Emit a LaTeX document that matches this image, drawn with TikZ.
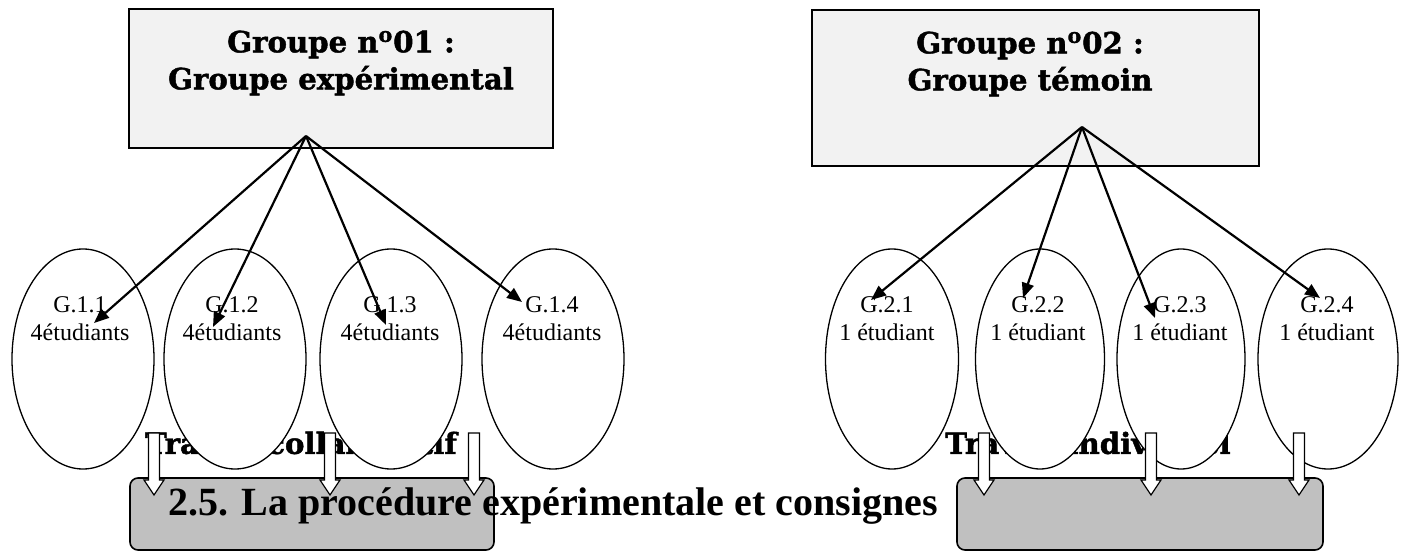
\documentclass[tikz,border=0pt]{standalone}
\usepackage{fontspec}
\setmainfont{Liberation Serif}
\newfontfamily\heavyfont{DejaVu Serif Bold}[FakeBold=1.5]
\usetikzlibrary{arrows.meta,shapes.geometric}

\definecolor{titlegray}{HTML}{F2F2F2}
\definecolor{workgray}{HTML}{C0C0C0}

\newcommand{\blockarrow}[1]{
	\pgfmathsetmacro{\BAxa}{#1-5.5}
	\pgfmathsetmacro{\BAxb}{#1+5.5}
	\pgfmathsetmacro{\BAha}{#1-10}
	\pgfmathsetmacro{\BAhb}{#1+10}
	\draw[fill=white, line width=0.6pt] (\BAxa,433) -- (\BAxb,433) -- (\BAxb,480) -- (\BAhb,480) -- (#1,495) -- (\BAha,480) -- (\BAxa,480) -- cycle;
}

\begin{document}
\begin{tikzpicture}[x=0.5pt, y=-0.5pt,
	grpbox/.style={draw, line width=0.8pt, fill=titlegray, inner sep=0pt},
	heavy/.style={font=\heavyfont\fontsize{14.6}{18.5}\selectfont, align=center, inner sep=0pt},
	ell/.style={ellipse, draw, fill=white, line width=0.65pt, minimum width=71pt, minimum height=110pt, inner sep=0pt},
	lbl/.style={align=center, font=\fontsize{12}{14}\selectfont, inner sep=0pt},
	link/.style={line width=1.1pt, -{Triangle[length=7.5pt,width=6pt]}},
	workbox/.style={draw, line width=0.8pt, rounded corners=4pt, fill=workgray, inner sep=0pt}]
\useasboundingbox[fill=white] (0,0) rectangle (1405,551);

% group boxes
\node[grpbox, minimum width=212pt, minimum height=69.5pt] (box1) at (341,78.5) {};
\node[heavy] (title1) at (341,63) {Groupe n\textsuperscript{o}01 :\\Groupe expérimental};
\node[grpbox, minimum width=223.5pt, minimum height=78pt] (box2) at (1035.5,88) {};
\node[heavy] (title2) at (1030,64) {Groupe n\textsuperscript{o}02 :\\Groupe témoin};

\node[heavy] (work1) at (301,443) {Travail collaboratif};
\node[heavy] (work2) at (1088,443) {Travail individuel};

% subgroups
\node[ell] (g11) at (83,359) {};
\node[ell] (g12) at (235,359) {};
\node[ell] (g13) at (391,359) {};
\node[ell] (g14) at (553,359) {};
\node[ell, minimum width=66.5pt] (g21) at (892,359) {};
\node[ell, minimum width=64.5pt] (g22) at (1040,359) {};
\node[ell, minimum width=64pt] (g23) at (1181,359) {};
\node[ell, minimum width=70pt] (g24) at (1328,359) {};

\foreach \i/\x in {1/80,2/232,3/390,4/552}
	\node[lbl] (t1\i) at (\x,319) {G.1.\i\\4étudiants};
\foreach \i/\x in {1/887,2/1038,3/1180,4/1327}
	\node[lbl] (t2\i) at (\x,319) {G.2.\i\\1 étudiant};

\coordinate (top1) at (306,136);
\coordinate (top2) at (1082,127);
\coordinate (p11) at (94,323);
\coordinate (p12) at (213,327);
\coordinate (p13) at (386,325);
\coordinate (p14) at (522,302);
\coordinate (p21) at (871,300);
\coordinate (p22) at (1023,298);
\coordinate (p23) at (1155,318);
\coordinate (p24) at (1320,298);

\foreach \i in {1,...,4}{
	\draw[link] (top1) -- (p1\i);
	\draw[link] (top2) -- (p2\i);
}

% result boxes
\node[workbox, minimum width=182pt, minimum height=36pt] (res1) at (312,514) {};
\node[workbox, minimum width=183pt, minimum height=36pt] (res2) at (1140,514) {};

\foreach \x in {154,330,474,984,1151,1299}{
	\blockarrow{\x}
}

\node[anchor=base west, font=\bfseries\fontsize{20}{24}\selectfont, inner sep=0pt] (heading) at (168,515) {2.5. La procédure expérimentale et consignes};
\end{tikzpicture}
\end{document}
